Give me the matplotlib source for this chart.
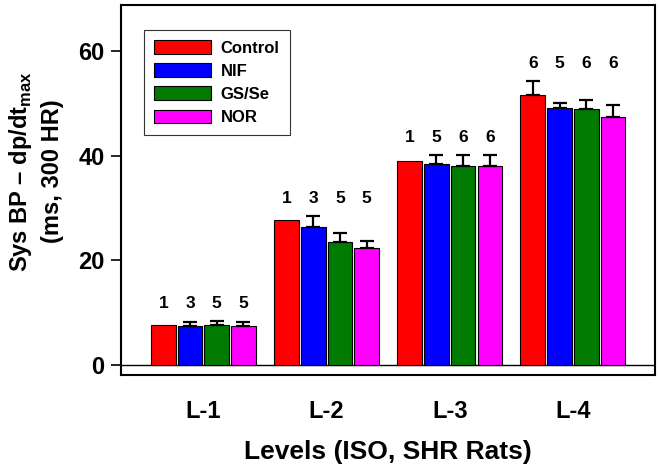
import matplotlib.pyplot as plt
import numpy as np

plt.rcParams['font.family'] = ['Liberation Sans', 'DejaVu Sans']
plt.rcParams['font.weight'] = 'bold'
plt.rcParams['mathtext.fontset'] = 'custom'
plt.rcParams['mathtext.rm'] = 'Liberation Sans:bold'
plt.rcParams['mathtext.bf'] = 'Liberation Sans:bold'

# data
levels = ["L-1", "L-2", "L-3", "L-4"]
groups = ["Control", "NIF", "GS/Se", "NOR"]
colors = ["#ff0000", "#0000ff", "#007a00", "#ff00ff"]

control = [7.6, 27.7, 39.0, 51.7]
nif = [7.5, 26.4, 38.4, 49.2]
gsse = [7.6, 23.6, 38.1, 48.9]
nor = [7.5, 22.4, 38.1, 47.4]

control_err = [0.0, 0.0, 0.0, 2.6]
nif_err = [0.8, 2.1, 1.7, 0.9]
gsse_err = [0.8, 1.7, 2.0, 1.8]
nor_err = [0.7, 1.4, 2.0, 2.3]

control_n = [1, 1, 1, 6]
nif_n = [3, 3, 5, 5]
gsse_n = [5, 5, 6, 6]
nor_n = [5, 5, 6, 6]

values = [control, nif, gsse, nor]
errors = [control_err, nif_err, gsse_err, nor_err]
counts = [control_n, nif_n, gsse_n, nor_n]

fig = plt.figure(figsize=(6.59, 4.70), dpi=100)
ax = fig.add_axes([0.184, 0.202, 0.81, 0.787])

x = np.arange(len(levels))
w = 0.2
step = 0.217
for i in range(4):
    pos = x + (i - 1.5) * step
    ax.bar(pos, values[i], w, color=colors[i], edgecolor='black', linewidth=0.8,
           label=groups[i], zorder=2)
    # only draw error bars where there is an error
    up = np.array(errors[i])
    keep = up > 0
    ax.errorbar(pos[keep], np.array(values[i])[keep],
                yerr=[np.zeros(keep.sum()), up[keep]], fmt='none',
                ecolor='black', elinewidth=1.6, capsize=5, capthick=1.6, zorder=3)

# n labels above each group
for j in range(len(levels)):
    top = max(values[i][j] + errors[i][j] for i in range(4))
    for i in range(4):
        ax.text(x[j] + (i - 1.5) * step, top + 3.4, str(counts[i][j]),
                ha='center', va='center', fontsize=12.5, fontweight='bold')

ax.axhline(0, color='black', linewidth=1.0, zorder=1)
ax.set_xlim(-0.667, 3.667)
ax.set_ylim(-1.9, 68.8)
ax.set_yticks([0, 20, 40, 60])
ax.set_xticks(x)
ax.set_xticklabels(levels, fontsize=17, fontweight='bold')
ax.tick_params(axis='x', length=0, pad=18)
ax.tick_params(axis='y', direction='out', length=7, width=1.2, labelsize=17, pad=5)
for lab in ax.get_yticklabels():
    lab.set_fontweight('bold')
for s in ax.spines.values():
    s.set_linewidth(1.5)

ax.set_xlabel("Levels (ISO, SHR Rats)", fontsize=19, fontweight='bold')
ax.xaxis.set_label_coords(0.5, -0.175)
ax.set_ylabel("Sys BP \u2013 dp/dt$_{\\mathrm{max}}$\n(ms, 300 HR)", fontsize=17,
              fontweight='bold', linespacing=1.35)
ax.yaxis.set_label_coords(-0.108, 0.55)

leg = ax.legend(loc='upper left', bbox_to_anchor=(0.027, 0.955), frameon=True,
                fancybox=False, edgecolor='black', fontsize=12,
                handlelength=3.4, handleheight=0.9, borderpad=0.6,
                labelspacing=0.45, handletextpad=0.6)
leg.get_frame().set_linewidth(0.8)
for t in leg.get_texts():
    t.set_fontweight('bold')

fig.savefig("out.png", dpi=100)
